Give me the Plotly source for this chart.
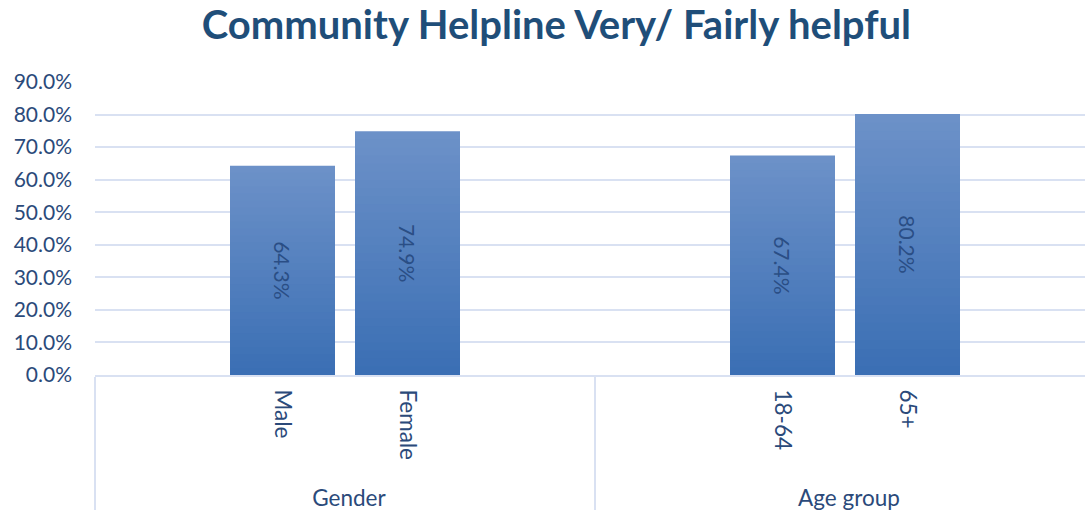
import plotly.graph_objects as go

# ---- data ----
groups = ["Gender", "Gender", "Age group", "Age group"]
categories = ["Male", "Female", "18-64", "65+"]
values = [64.3, 74.9, 67.4, 80.2]
y_ticks = [0, 10, 20, 30, 40, 50, 60, 70, 80, 90]
title_text = "Community Helpline Very/ Fairly helpful"

NBSP = "\u00a0"
# build multicategory axis with blank padding slots around each group's bars
outer, inner, ys, texts = [], [], [], []
pad = 1
for g in dict.fromkeys(groups):
    members = [(c, v) for gg, c, v in zip(groups, categories, values) if gg == g]
    outer.append(g); inner.append(" " * pad); ys.append(None); texts.append(""); pad += 1
    for c, v in members:
        outer.append(g); inner.append(c + NBSP * 2); ys.append(v); texts.append(f"{v:.1f}%")
    outer.append(g); inner.append(" " * pad); ys.append(None); texts.append(""); pad += 1

TXT = "#2B4A7A"
FONT = "Lato"
TOP = (108, 145, 200)
BOT = (59, 111, 180)
N = 30

fig = go.Figure()
# vertical gradient: overlaid bars of decreasing height, light (top) to dark (bottom)
for i in range(N):
    f = (N - i) / N
    t = i / (N - 1)
    col = "rgb(%d,%d,%d)" % tuple(round(TOP[k] + (BOT[k] - TOP[k]) * t) for k in range(3))
    fig.add_trace(go.Bar(
        x=[outer, inner],
        y=[None if v is None else v * f for v in ys],
        marker=dict(color=col, line=dict(width=0)),
        hoverinfo="skip",
    ))
# label layer
fig.add_trace(go.Bar(
    x=[outer, inner],
    y=ys,
    text=texts,
    textposition="inside",
    insidetextanchor="middle",
    textangle=90,
    textfont=dict(family=FONT, size=21, color="#2A4E85"),
    marker=dict(color="rgba(0,0,0,0)", line=dict(width=0)),
    hoverinfo="skip",
))

fig.update_layout(
    width=1085,
    height=510,
    paper_bgcolor="white",
    plot_bgcolor="white",
    margin=dict(l=95, r=0, t=82, b=135),
    barmode="overlay",
    bargap=0.16,
    showlegend=False,
    hovermode=False,
    title=dict(
        text=f"<b>{title_text}</b>",
        x=0.5128,
        xref="container",
        xanchor="center",
        y=1 - 39 / 510,
        yref="container",
        yanchor="bottom",
        font=dict(family=FONT, size=40, color="#1F4E79"),
    ),
    font=dict(family=FONT, size=21, color=TXT),
)

fig.update_yaxes(
    range=[0, 90],
    tickvals=y_ticks,
    ticktext=[f"{t:.1f}%" for t in y_ticks],
    showgrid=True,
    gridcolor="#D9E1F2",
    gridwidth=2,
    zeroline=False,
    showline=False,
    ticks="",
    ticklabelstandoff=22,
    tickfont=dict(family=FONT, size=21, color=TXT),
)

fig.update_xaxes(
    type="multicategory",
    range=[-0.5, len(outer) - 0.58],
    tickangle=90,
    showline=True,
    linecolor="#D9E1F2",
    linewidth=2,
    showdividers=True,
    dividercolor="#D9E1F2",
    dividerwidth=2,
    ticks="",
    showgrid=False,
    ticklabelstandoff=8,
    tickfont=dict(family=FONT, size=22.5, color=TXT),
)

fig.write_html(
    "out.html",
    config={"displayModeBar": False, "staticPlot": True},
    post_script="document.body.style.margin='0';",
)
